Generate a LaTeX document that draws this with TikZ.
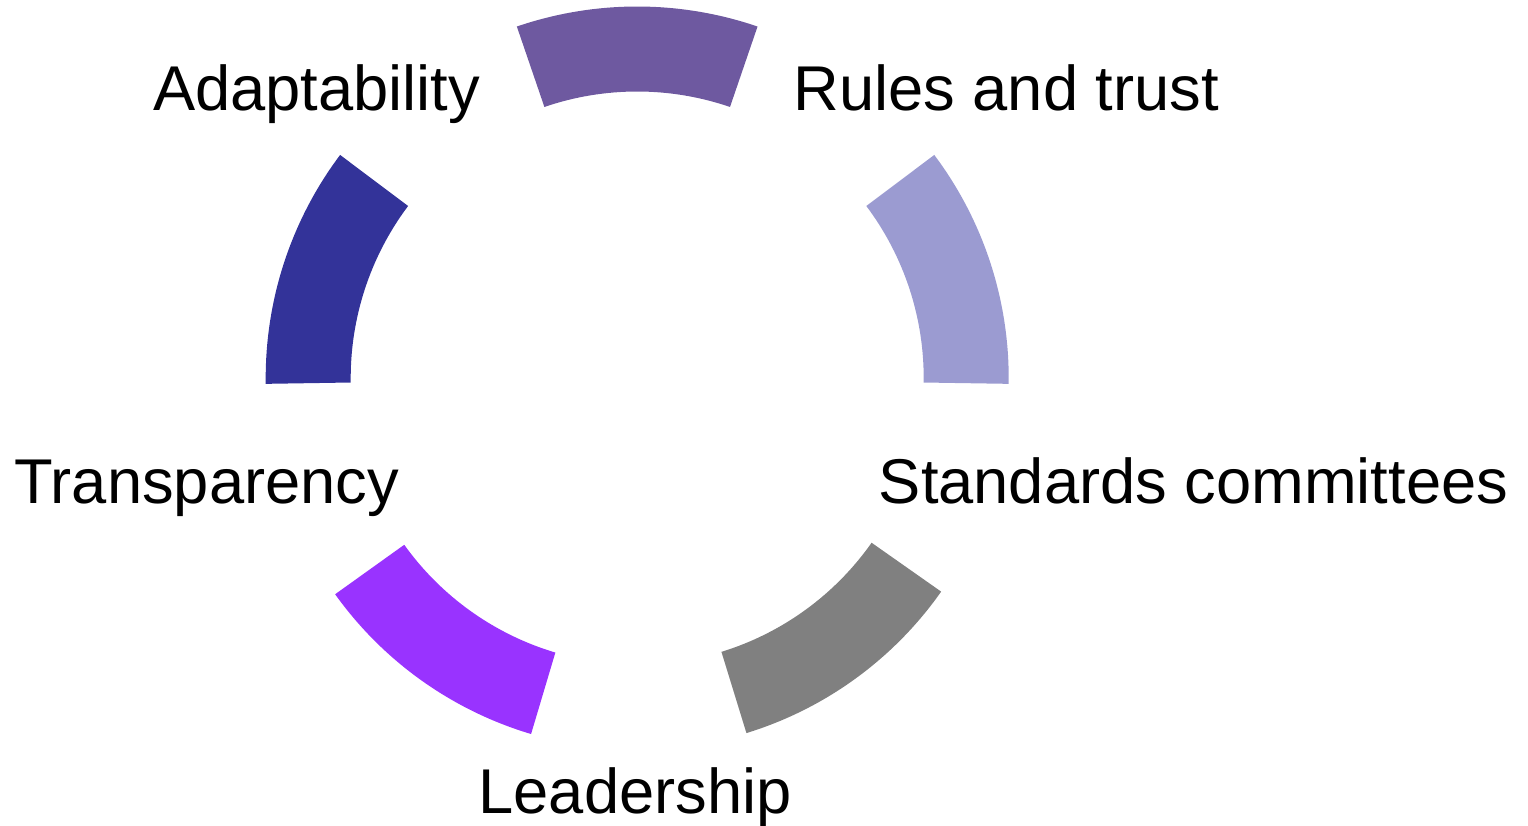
\documentclass[tikz,border=0pt]{standalone}
\usepackage{fontspec}
\setmainfont{Liberation Sans}
\usepackage{tikz}
\usetikzlibrary{positioning}

\definecolor{segtop}{HTML}{6E59A0}
\definecolor{segright}{HTML}{9B9BD1}
\definecolor{seggrey}{HTML}{808080}
\definecolor{segviolet}{HTML}{9933FF}
\definecolor{segnavy}{HTML}{333399}

\tikzset{
	lbl/.style={anchor=base,inner sep=0pt,font=\fontsize{18}{22}\selectfont},
}

\begin{document}
\begin{tikzpicture}[scale=1]
	\useasboundingbox (-6.372,-4.47) rectangle (8.908,3.78);
	% ring pieces, outer radius 3.715, inner radius 2.865
	\fill[segtop] (71.1:3.715) arc[start angle=71.1,end angle=108.9,radius=3.715] -- (108.9:2.865) arc[start angle=108.9,end angle=71.1,radius=2.865] -- cycle;
	\fill[segright] (-0.9:3.715) arc[start angle=-0.9,end angle=36.9,radius=3.715] -- (36.9:2.865) arc[start angle=36.9,end angle=-0.9,radius=2.865] -- cycle;
	\fill[seggrey] (-72.9:3.715) arc[start angle=-72.9,end angle=-35.1,radius=3.715] -- (-35.1:2.865) arc[start angle=-35.1,end angle=-72.9,radius=2.865] -- cycle;
	\fill[segviolet] (215.6:3.715) arc[start angle=215.6,end angle=253.4,radius=3.715] -- (253.4:2.865) arc[start angle=253.4,end angle=215.6,radius=2.865] -- cycle;
	\fill[segnavy] (143.1:3.715) arc[start angle=143.1,end angle=180.9,radius=3.715] -- (180.9:2.865) arc[start angle=180.9,end angle=143.1,radius=2.865] -- cycle;
	% labels
	\node[lbl] (adapt) at (-3.205,2.68) {Adaptability};
	\node[lbl] (rules) at (3.691,2.68) {Rules and trust};
	\node[lbl] (transp) at (-4.305,-1.253) {Transparency};
	\node[lbl] (stand) at (5.563,-1.253) {Standards committees};
	\node[lbl] (lead) at (-0.022,-4.353) {Leadership};
\end{tikzpicture}
\end{document}
